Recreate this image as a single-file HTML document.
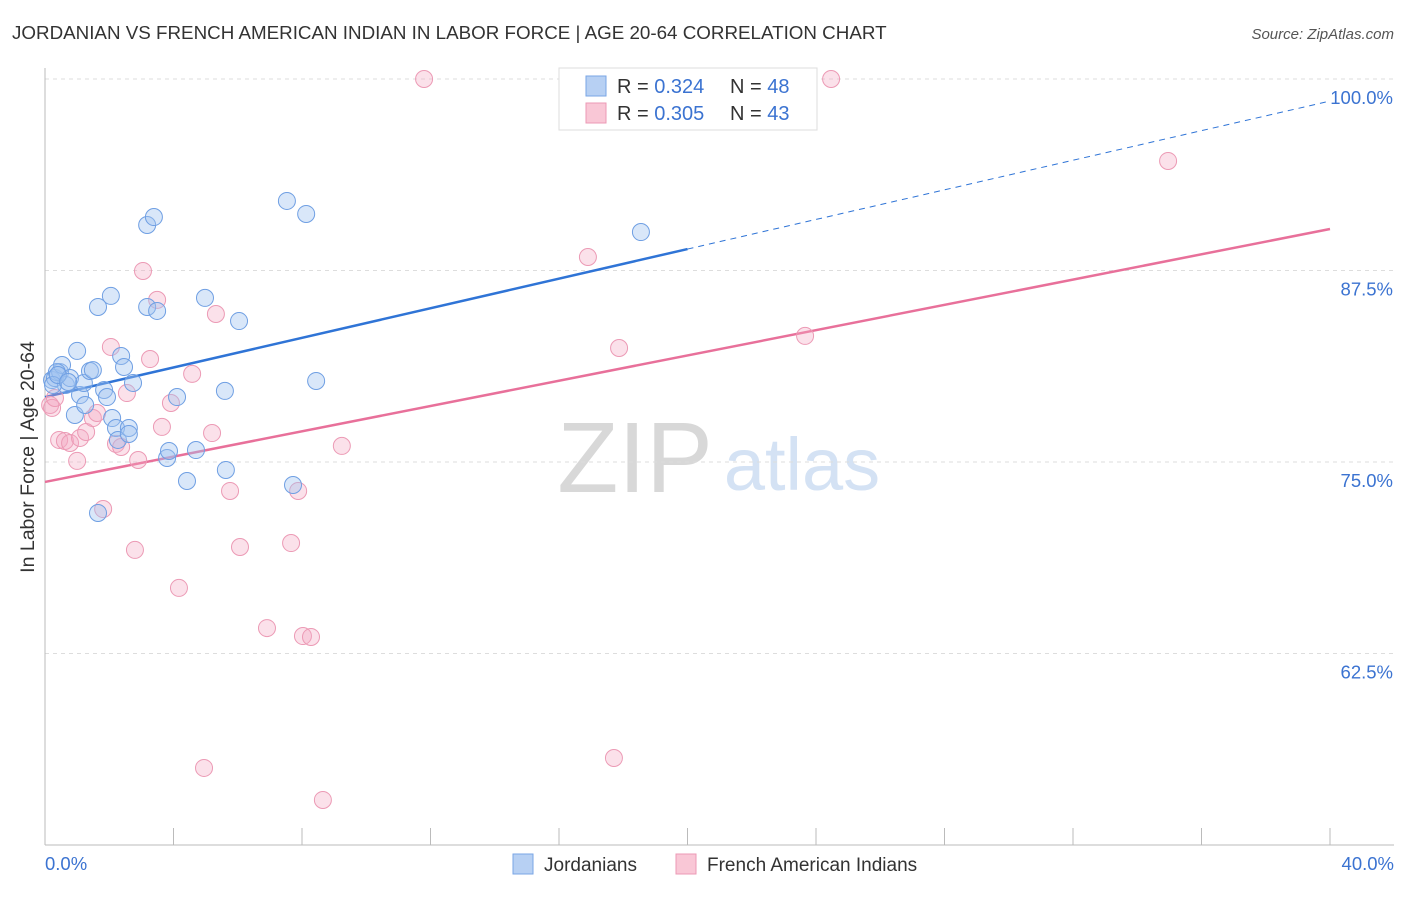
<!DOCTYPE html>
<html><head><meta charset="utf-8"><style>
body{margin:0;background:#fff;font-family:"Liberation Sans",sans-serif}
svg text{font-family:"Liberation Sans",sans-serif}
</style></head><body>
<svg id="chart" width="1406" height="892">
<text x="12" y="39" font-size="18.8" fill="#333">JORDANIAN VS FRENCH AMERICAN INDIAN IN LABOR FORCE | AGE 20-64 CORRELATION CHART</text>
<text x="1394" y="39" font-size="15" fill="#555" font-style="italic" text-anchor="end">Source: ZipAtlas.com</text>
<g><text x="635" y="492" font-size="100" font-family="Liberation Serif" fill="#d8d8d8" text-anchor="middle">ZIP</text><text x="802" y="490" font-size="74" fill="#d4e2f4" text-anchor="middle">atlas</text></g>
<g id="grid"></g><g id="axes"></g><g id="lines"></g><g id="pts"></g>
<text transform="translate(34,457) rotate(-90)" font-size="19.5" fill="#333" text-anchor="middle">In Labor Force | Age 20-64</text>
<g>
<rect x="559" y="68" width="258" height="62" fill="#fff" stroke="#ddd"/>
<rect x="586" y="76" width="20" height="20" fill="#b7d0f3" stroke="#7aa6e6"/>
<rect x="586" y="103" width="20" height="20" fill="#f9c7d6" stroke="#ec9ab5"/>
<text x="617" y="93" font-size="20" fill="#333">R = <tspan fill="#3b73d1">0.324</tspan></text>
<text x="730" y="93" font-size="20" fill="#333">N = <tspan fill="#3b73d1">48</tspan></text>
<text x="617" y="120" font-size="20" fill="#333">R = <tspan fill="#3b73d1">0.305</tspan></text>
<text x="730" y="120" font-size="20" fill="#333">N = <tspan fill="#3b73d1">43</tspan></text>
</g>
<g>
<rect x="513" y="854" width="20" height="20" fill="#b7d0f3" stroke="#7aa6e6"/>
<text x="544" y="871" font-size="19" fill="#333">Jordanians</text>
<rect x="676" y="854" width="20" height="20" fill="#f9c7d6" stroke="#ec9ab5"/>
<text x="707" y="871" font-size="19" fill="#333">French American Indians</text>
</g>
</svg>
<script>
const yTicks=[100,87.5,75,62.5];
const yTickLabels=["100.0%","87.5%","75.0%","62.5%"];
const xTickVals=[0,4,8,12,16,20,24,28,32,36,40];
const blueX=[0.22,0.31,0.47,0.53,0.37,0.65,0.78,0.93,1.0,1.09,1.25,1.21,1.40,1.49,1.65,1.65,1.84,1.93,2.05,2.09,2.21,2.27,2.37,2.46,2.61,2.61,2.74,3.18,3.18,3.39,3.49,3.80,3.86,4.11,4.42,4.70,4.98,5.60,5.63,6.04,7.53,7.72,8.13,8.44,18.55,0.25,0.40,0.72];
const blueY=[80.35,80.48,80.87,81.33,80.87,80.03,80.48,78.07,82.25,79.37,78.72,80.16,80.94,81.0,71.67,85.12,79.70,79.24,85.84,77.87,77.22,76.44,81.92,81.2,77.22,76.83,80.16,90.47,85.12,90.99,84.86,75.26,75.72,79.24,73.76,75.78,85.71,79.64,74.48,84.2,92.04,73.5,91.19,80.29,90.01,80.03,80.68,80.22];
const pinkX=[0.16,0.22,0.31,0.44,0.62,0.78,1.0,1.09,1.28,1.49,1.62,1.81,2.05,2.21,2.37,2.55,2.80,2.90,3.05,3.27,3.49,3.64,3.92,4.17,4.58,4.95,5.20,5.32,5.76,6.07,6.91,7.66,7.88,8.03,8.28,8.65,9.24,11.80,16.90,17.71,17.87,23.66,24.47,34.96];
const pinkY=[78.72,78.53,79.18,76.44,76.37,76.24,75.07,76.57,76.96,77.87,78.2,71.93,82.51,76.18,75.98,79.5,69.26,75.13,87.47,81.72,85.58,77.29,78.85,66.78,80.75,55.03,76.89,84.66,73.11,69.45,64.16,69.71,73.11,63.64,63.58,52.94,76.05,100,88.38,55.68,82.44,83.23,100,94.65];
const blueLine=[79.24,98.56]; const blueSolidEnd=20;
const pinkLine=[73.7,90.21];
const X=v=>45+v/40*1285, Y=v=>79+(100-v)*15.32;
const NS="http://www.w3.org/2000/svg";
function mk(p,t,a){const e=document.createElementNS(NS,t);for(const k in a)e.setAttribute(k,a[k]);document.getElementById(p).appendChild(e);return e;}
yTicks.forEach((t,i)=>{
 const l=mk('grid','line',{x1:45,x2:1394,y1:Y(t),y2:Y(t),stroke:'#ddd','stroke-dasharray':'4,4'});
 
 
 const tx=mk('grid','text',{x:1393,y:Y(t)+25,'font-size':18.5,fill:'#3b73d1','text-anchor':'end'});tx.textContent=yTickLabels[i];
 
 
});
mk('axes','line',{x1:45,x2:45,y1:68,y2:845,stroke:'#bbb'});
mk('axes','line',{x1:45,x2:1394,y1:845,y2:845,stroke:'#bbb'});
xTickVals.forEach(v=>{const t=mk('axes','line',{x1:X(v),x2:X(v),y1:828,y2:845,stroke:'#bbb'});
 
 });
let a=mk('axes','text',{x:45,y:870,'font-size':18.5,fill:'#3b73d1'});a.textContent='0.0%';


a=mk('axes','text',{x:1394,y:870,'font-size':18.5,fill:'#3b73d1','text-anchor':'end'});a.textContent='40.0%';


const by=x=>blueLine[0]+(blueLine[1]-blueLine[0])*x/40;
let ln=mk('lines','line',{x1:X(0),y1:Y(blueLine[0]),x2:X(blueSolidEnd),y2:Y(by(blueSolidEnd)),stroke:'#2f74d6','stroke-width':2.5});


ln=mk('lines','line',{x1:X(blueSolidEnd),y1:Y(by(blueSolidEnd)),x2:X(40),y2:Y(blueLine[1]),stroke:'#2f74d6','stroke-width':1,'stroke-dasharray':'6,5'});


ln=mk('lines','line',{x1:X(0),y1:Y(pinkLine[0]),x2:X(40),y2:Y(pinkLine[1]),stroke:'#e8709a','stroke-width':2.5});


pinkX.forEach((x,i)=>{const c=mk('pts','circle',{cx:X(x),cy:Y(pinkY[i]),r:8.5,fill:'rgba(244,170,195,0.35)',stroke:'#ec9ab5','stroke-width':1});
 
 });
blueX.forEach((x,i)=>{const c=mk('pts','circle',{cx:X(x),cy:Y(blueY[i]),r:8.5,fill:'rgba(160,195,240,0.4)',stroke:'#6f9fe3','stroke-width':1});
 
 });
</script>
</body></html>
